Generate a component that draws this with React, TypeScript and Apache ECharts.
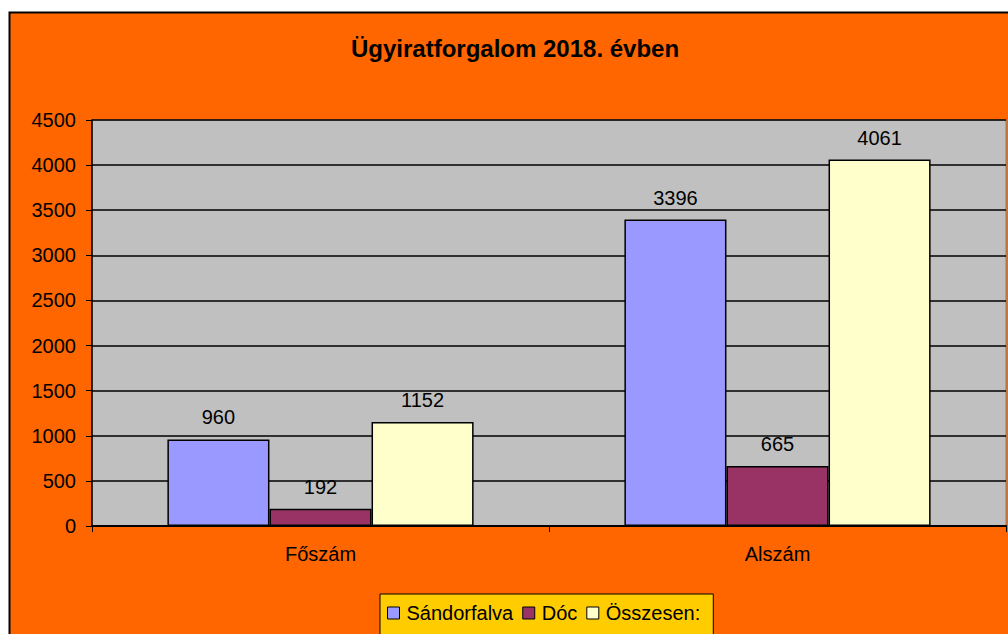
import React, { useEffect, useRef } from "react";
import * as echarts from "echarts";

const categories = ["Főszám", "Alszám"];
const sandorfalva = [960, 3396];
const doc = [192, 665];
const osszesen = [1152, 4061];
const seriesNames = ["Sándorfalva", "Dóc", "Összesen:"];
const title = "Ügyiratforgalom 2018. évben";

export default function App() {
  const ref = useRef<HTMLDivElement>(null);
  useEffect(() => {
    const chart = echarts.init(ref.current!, null, { renderer: "svg" });
    const font = "Arial, 'Liberation Sans', sans-serif";
    const label = {
      show: true,
      position: "top" as const,
      distance: 12,
      color: "#000",
      fontSize: 20,
      fontFamily: font,
    };
    const mk = (name: string, data: number[], color: string) => ({
      name,
      type: "bar" as const,
      data,
      barGap: "0%",
      barCategoryGap: "33%",
      itemStyle: { color, borderColor: "#000", borderWidth: 1.5 },
      label,
    });
    chart.setOption({
      animation: false,
      graphic: [
        {
          type: "rect",
          z: -10,
          silent: true,
          shape: { x: 9.5, y: 12.5, width: 1040, height: 660 },
          style: { fill: "#FF6600", stroke: "#000", lineWidth: 2 },
        },
        {
          type: "text",
          left: 351,
          top: 36,
          style: {
            text: title,
            fontSize: 24,
            fontWeight: "bold",
            fontFamily: font,
            fill: "#000",
          },
        },
      ],
      grid: {
        left: 92,
        top: 120,
        width: 914,
        height: 406,
        show: true,
        backgroundColor: "#C0C0C0",
        borderColor: "#808080",
        borderWidth: 1,
        containLabel: false,
      },
      legend: {
        left: 380,
        top: 594,
        data: seriesNames,
        icon: "rect",
        itemWidth: 12,
        itemHeight: 12,
        itemGap: 9,
        backgroundColor: "#FFCC00",
        borderColor: "#000",
        borderWidth: 1,
        borderRadius: 0,
        padding: [9, 13, 14, 7],
        itemStyle: { borderColor: "#000", borderWidth: 1 },
        textStyle: { color: "#000", fontSize: 20, fontFamily: font, padding: [0, 0, 0, 2] },
      },
      xAxis: {
        type: "category",
        data: categories,
        axisLine: { lineStyle: { color: "#000", width: 2 } },
        axisTick: { show: true, length: 6, lineStyle: { color: "#000" } },
        axisLabel: { color: "#000", fontSize: 20, fontFamily: font, margin: 18 },
      },
      yAxis: {
        type: "value",
        min: 0,
        max: 4500,
        interval: 500,
        axisLine: { show: true, lineStyle: { color: "#000", width: 1.5 } },
        axisTick: { show: true, length: 6, lineStyle: { color: "#000" } },
        axisLabel: {
          color: "#000",
          fontSize: 20,
          fontFamily: font,
          margin: 16,
          formatter: (v: number) => String(v),
        },
        splitLine: { lineStyle: { color: "#000", width: 1.5 } },
      },
      series: [
        mk(seriesNames[0], sandorfalva, "#9999FF"),
        mk(seriesNames[1], doc, "#993366"),
        mk(seriesNames[2], osszesen, "#FFFFCC"),
      ],
    });
    return () => chart.dispose();
  }, []);
  return (
    <div
      ref={ref}
      style={{ position: "absolute", left: 0, top: 0, width: 1008, height: 634 }}
    />
  );
}
